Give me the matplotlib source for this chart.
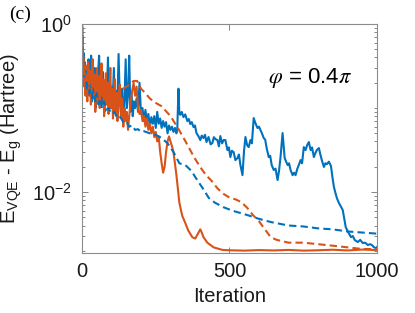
import matplotlib
matplotlib.use('Agg')
import matplotlib.pyplot as plt
from matplotlib.ticker import FixedLocator, NullFormatter

plt.rcParams['font.family'] = ['Liberation Sans', 'DejaVu Sans']
plt.rcParams['mathtext.fontset'] = 'stix'

# (iteration, E_VQE - E_g)
blue_solid = [
    (0, 1.0), (2, 0.6), (4, 0.3), (6, 0.45), (8, 0.22), (10, 0.35), (13, 0.17), (16, 0.3),
    (19, 0.2), (22, 0.38), (25, 0.14), (28, 0.26), (31, 0.42), (34, 0.12), (37, 0.24),
    (40, 0.16), (43, 0.3), (46, 0.1), (49, 0.19), (52, 0.13), (55, 0.28), (58, 0.42),
    (61, 0.15), (64, 0.22), (67, 0.11), (70, 0.27), (73, 0.14), (76, 0.09), (79, 0.2),
    (82, 0.12), (85, 0.17), (88, 0.4), (91, 0.13), (94, 0.23), (97, 0.1), (100, 0.18),
    (104, 0.12), (108, 0.3), (112, 0.095), (116, 0.16), (120, 0.11), (124, 0.44),
    (128, 0.13), (132, 0.09), (136, 0.17), (140, 0.075), (144, 0.12), (148, 0.38),
    (152, 0.1), (156, 0.14), (160, 0.42), (164, 0.09), (168, 0.15), (172, 0.08),
    (176, 0.12), (180, 0.1), (185, 0.13), (190, 0.09), (195, 0.2), (200, 0.085),
    (205, 0.1), (210, 0.07), (215, 0.095), (220, 0.07), (225, 0.085), (230, 0.06),
    (235, 0.078), (240, 0.065), (245, 0.08), (250, 0.058), (255, 0.09), (260, 0.065),
    (265, 0.075), (270, 0.058), (275, 0.07), (280, 0.06), (285, 0.068), (290, 0.05),
    (295, 0.062), (300, 0.055), (305, 0.06), (310, 0.052), (315, 0.058), (320, 0.05),
    (323, 0.056), (327, 0.17), (330, 0.087), (333, 0.083), (338, 0.09), (344, 0.078),
    (350, 0.084), (357, 0.07), (362, 0.074), (367, 0.0645), (372, 0.068), (378, 0.0594),
    (383, 0.062), (388, 0.0504), (395, 0.046), (401, 0.0416), (406, 0.047), (412, 0.044),
    (417, 0.048), (422, 0.0394), (429, 0.0452), (436, 0.037), (442, 0.0383),
    (447, 0.045), (452, 0.0428), (459, 0.0416), (464, 0.035), (469, 0.0464),
    (475, 0.038), (480, 0.0416), (486, 0.0416), (493, 0.0316), (498, 0.034),
    (503, 0.0261), (508, 0.031), (514, 0.0299), (520, 0.024), (527, 0.0254),
    (532, 0.028), (537, 0.021), (544, 0.0159), (549, 0.03), (554, 0.0452),
    (560, 0.036), (565, 0.0343), (571, 0.0416), (576, 0.038), (582, 0.076), (588, 0.066),
    (595, 0.0578), (600, 0.06), (605, 0.0547), (610, 0.05), (616, 0.044), (621, 0.042),
    (626, 0.0334), (633, 0.0261), (638, 0.027), (643, 0.021), (650, 0.0183),
    (656, 0.019), (663, 0.0139), (668, 0.018), (673, 0.0261), (680, 0.0504),
    (687, 0.0254), (692, 0.023), (697, 0.021), (702, 0.022), (707, 0.0183),
    (714, 0.0159), (719, 0.017), (724, 0.0159), (730, 0.019), (735, 0.021),
    (741, 0.024), (746, 0.022), (752, 0.0343), (758, 0.0316), (763, 0.036),
    (769, 0.0394), (775, 0.0316), (780, 0.034), (786, 0.0261), (791, 0.029),
    (796, 0.0316), (803, 0.0334), (808, 0.028), (813, 0.024), (820, 0.0199),
    (825, 0.022), (830, 0.0215), (837, 0.023), (844, 0.0204), (849, 0.015),
    (854, 0.0115), (859, 0.0098), (864, 0.0085), (871, 0.0074), (877, 0.0068),
    (884, 0.0061), (889, 0.0048), (894, 0.00383), (903, 0.0033), (912, 0.00291),
    (918, 0.003), (925, 0.00268), (935, 0.00254), (943, 0.0027), (952, 0.00247),
    (960, 0.0025), (969, 0.00234), (976, 0.0024), (983, 0.00234), (990, 0.0022),
    (997, 0.00215), (1000, 0.00221),
]

blue_dashed = [
    (0, 1.0), (4, 0.4), (8, 0.22), (12, 0.3), (16, 0.17), (20, 0.24), (25, 0.15),
    (30, 0.2), (35, 0.13), (40, 0.17), (45, 0.12), (50, 0.15), (56, 0.11), (62, 0.13),
    (68, 0.1), (75, 0.12), (82, 0.095), (90, 0.1), (100, 0.085), (110, 0.09),
    (120, 0.075), (130, 0.078), (140, 0.068), (150, 0.07), (160, 0.06), (170, 0.062),
    (180, 0.055), (190, 0.056), (200, 0.052), (210, 0.053), (230, 0.05), (250, 0.048),
    (270, 0.044), (290, 0.038), (310, 0.03), (330, 0.022), (350, 0.021), (370, 0.018),
    (390, 0.014), (410, 0.011), (430, 0.0085), (450, 0.0075), (480, 0.0066),
    (510, 0.006), (540, 0.0056), (570, 0.0052), (600, 0.0048), (640, 0.0044),
    (700, 0.004), (750, 0.0039), (800, 0.0037), (850, 0.0036), (900, 0.0034),
    (950, 0.0033), (1000, 0.0032),
]

orange_solid = [
    (0, 1.0), (2, 0.5), (4, 0.25), (6, 0.4), (8, 0.18), (10, 0.3), (12, 0.14), (14, 0.32),
    (16, 0.2), (18, 0.12), (21, 0.35), (24, 0.16), (27, 0.28), (30, 0.11), (33, 0.22),
    (36, 0.38), (39, 0.13), (42, 0.25), (45, 0.09), (48, 0.2), (51, 0.3), (54, 0.12),
    (57, 0.24), (60, 0.1), (63, 0.18), (66, 0.34), (69, 0.14), (72, 0.22), (75, 0.08),
    (78, 0.16), (81, 0.26), (84, 0.11), (87, 0.2), (90, 0.085), (93, 0.14), (96, 0.3),
    (99, 0.1), (102, 0.17), (105, 0.075), (108, 0.13), (111, 0.22), (114, 0.09),
    (117, 0.15), (120, 0.07), (124, 0.12), (128, 0.19), (132, 0.08), (136, 0.13),
    (140, 0.06), (144, 0.1), (148, 0.07), (152, 0.09), (156, 0.055), (160, 0.08),
    (165, 0.12), (170, 0.16), (175, 0.2), (180, 0.14), (185, 0.18), (190, 0.1),
    (195, 0.085), (200, 0.095), (205, 0.07), (210, 0.08), (215, 0.06), (220, 0.075),
    (225, 0.055), (230, 0.065), (235, 0.05), (240, 0.06), (245, 0.045), (250, 0.052),
    (255, 0.04), (260, 0.046), (265, 0.03), (270, 0.022), (275, 0.017), (280, 0.02),
    (285, 0.03), (290, 0.04), (295, 0.046), (300, 0.04), (305, 0.035), (310, 0.03),
    (315, 0.022), (320, 0.016), (325, 0.011), (330, 0.0075), (335, 0.0062),
    (340, 0.0052), (350, 0.0043), (360, 0.0035), (374, 0.0029), (384, 0.0028),
    (393, 0.0032), (401, 0.0036), (406, 0.0033), (412, 0.0029), (425, 0.0025),
    (446, 0.0022), (476, 0.00205), (500, 0.00203), (550, 0.00201), (600, 0.00204),
    (650, 0.00202), (700, 0.00205), (750, 0.00201), (800, 0.00203), (850, 0.00206),
    (900, 0.00202), (950, 0.00207), (1000, 0.00204),
]

orange_dashed = [
    (0, 1.0), (4, 0.35), (8, 0.25), (12, 0.32), (16, 0.2), (20, 0.26), (25, 0.18),
    (30, 0.24), (35, 0.17), (40, 0.21), (45, 0.16), (50, 0.2), (56, 0.15), (62, 0.18),
    (70, 0.15), (80, 0.17), (90, 0.14), (100, 0.16), (120, 0.15), (140, 0.17),
    (160, 0.19), (175, 0.21), (187, 0.21), (200, 0.17), (215, 0.15), (230, 0.13),
    (250, 0.115), (270, 0.105), (300, 0.08), (320, 0.062), (340, 0.047), (360, 0.035),
    (380, 0.026), (400, 0.02), (420, 0.016), (440, 0.0135), (460, 0.011), (480, 0.0095),
    (500, 0.0086), (520, 0.0082), (540, 0.0076), (560, 0.0065), (580, 0.0053),
    (600, 0.0045), (620, 0.0036), (640, 0.0029), (660, 0.0027), (700, 0.0025),
    (750, 0.0025), (800, 0.0024), (850, 0.0023), (900, 0.0022), (950, 0.0021),
    (1000, 0.0021),
]

blue = '#0072BD'
orange = '#D95319'

fig = plt.figure(figsize=(4.15, 3.13), dpi=100)
ax = fig.add_axes([0.1976, 0.1927, 0.7108, 0.7306])

lw = 1.5
ax.plot(*zip(*blue_solid), color=blue, lw=lw)
ax.plot(*zip(*orange_solid), color=orange, lw=lw)
ax.plot(*zip(*blue_dashed), color=blue, lw=lw, dashes=(3.5, 2))
ax.plot(*zip(*orange_dashed), color=orange, lw=lw, dashes=(3.5, 2))

ax.set_yscale('log')
ax.set_xlim(0, 1000)
ax.set_ylim(0.0019, 1)

ax.xaxis.set_major_locator(FixedLocator([0, 500, 1000]))
ax.set_xticklabels(['0', '500', '1000'])
ax.yaxis.set_major_locator(FixedLocator([1e-2, 1e0]))
ax.set_yticklabels([r'$\mathregular{10^{-2}}$', r'$\mathregular{10^{0}}$'])
minor = [m * 10.0 ** d for d in (-3, -2, -1) for m in range(2, 10)] + [0.1]
ax.yaxis.set_minor_locator(FixedLocator(minor))
ax.yaxis.set_minor_formatter(NullFormatter())

for s in ax.spines.values():
    s.set_color('0.55')
    s.set_linewidth(0.8)
ax.tick_params(which='both', direction='in', top=True, right=True, color='0.45',
               labelsize=14.5, labelcolor='0.1', width=0.6)
ax.tick_params(which='major', length=4, pad=7)
ax.tick_params(which='minor', length=2)

ax.set_xlabel('Iteration', fontsize=14.5, color='0.1', labelpad=4)
ax.set_ylabel(r'$\mathregular{E_{VQE}}$ - $\mathregular{E_g}$ (Hartree)', fontsize=14.5,
              color='0.1', labelpad=6)

ax.text(0.63, 0.765, r'$\varphi$ = 0.4$\pi$', transform=ax.transAxes, fontsize=16,
        va='center', ha='left')
fig.text(0.022, 0.953, '(c)', family='Liberation Serif', fontsize=14, va='center')

fig.savefig('out.png', dpi=100)
